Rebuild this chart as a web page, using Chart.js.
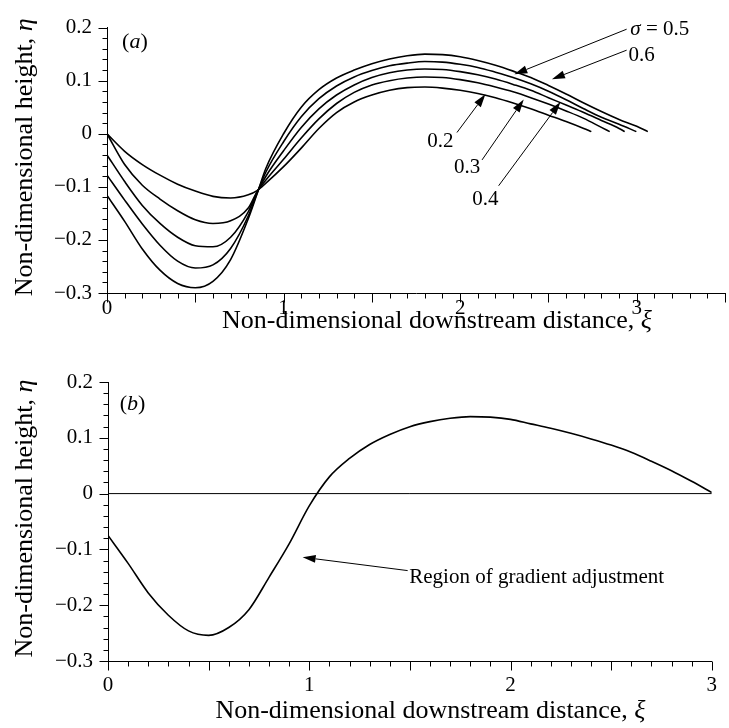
<!DOCTYPE html>
<html>
<head>
<meta charset="utf-8">
<script src="https://cdn.jsdelivr.net/npm/chart.js@4.4.1/dist/chart.umd.min.js"></script>
<style>
html, body { margin: 0; padding: 0; background: #fff; }
#wrap { position: relative; width: 729px; height: 728px; }
canvas { position: absolute; left: 0; }
#chartA { top: 0; }
#chartB { top: 335px; }
</style>
</head>
<body>
<div id="wrap">
    <canvas id="chartA" width="729" height="335"></canvas>
    <canvas id="chartB" width="729" height="393"></canvas>
</div>
<script>
// Panel (a): surface profiles for several sigma
const xGrid = [0, 0.1, 0.2, 0.3, 0.4, 0.5, 0.6, 0.7, 0.8, 0.85, 0.9, 1.0, 1.1, 1.2, 1.3, 1.4, 1.5, 1.6,
    1.7, 1.8, 1.9, 2.0, 2.1, 2.2, 2.3, 2.4, 2.5, 2.6, 2.7, 2.8, 2.9, 3.0];
const sigmaValues = ['0.2', '0.3', '0.4', '0.5', '0.6'];
const etaSigma02 = [0, -0.033, -0.058, -0.078, -0.095, -0.108, -0.118, -0.121, -0.115, -0.107, -0.093, -0.062,
    -0.027, 0.010, 0.040, 0.060, 0.073, 0.082, 0.087, 0.088, 0.086, 0.082, 0.076, 0.068, 0.058, 0.047, 0.035,
    0.023, 0.010];
const etaSigma03 = [0, -0.058, -0.097, -0.123, -0.145, -0.162, -0.169, -0.164, -0.140, -0.109, -0.087, -0.048,
    -0.008, 0.028, 0.057, 0.078, 0.092, 0.100, 0.105, 0.107, 0.106, 0.102, 0.096, 0.088, 0.079, 0.068, 0.056,
    0.043, 0.029, 0.012];
const etaSigma04 = [-0.040, -0.090, -0.135, -0.169, -0.195, -0.211, -0.213, -0.195, -0.147, -0.110, -0.080,
    -0.032, 0.012, 0.047, 0.073, 0.092, 0.106, 0.115, 0.120, 0.122, 0.121, 0.117, 0.111, 0.103, 0.093, 0.082,
    0.068, 0.054, 0.040, 0.025, 0.010];
const etaSigma05 = [-0.078, -0.125, -0.170, -0.210, -0.240, -0.253, -0.247, -0.216, -0.155, -0.112, -0.072,
    -0.015, 0.032, 0.066, 0.090, 0.107, 0.119, 0.128, 0.133, 0.136, 0.135, 0.131, 0.125, 0.116, 0.106, 0.094,
    0.080, 0.064, 0.047, 0.031, 0.018];
const etaSigma06 = [-0.116, -0.165, -0.217, -0.257, -0.282, -0.290, -0.278, -0.237, -0.160, -0.113, -0.065,
    0.000, 0.050, 0.083, 0.105, 0.120, 0.132, 0.141, 0.147, 0.150, 0.149, 0.145, 0.138, 0.129, 0.118, 0.106,
    0.091, 0.075, 0.058, 0.042, 0.027, 0.014];
const endXi = [2.743, 2.847, 2.932, 2.998, 3.063];
const endEta = [0.004, 0.004, 0.004, 0.004, 0.004];

// Panel (b): single profile and the still water level
const xiB = [0, 0.1, 0.2, 0.3, 0.4, 0.5, 0.6, 0.7, 0.8, 0.9, 1.0, 1.1, 1.2, 1.3, 1.4, 1.5, 1.6, 1.7, 1.8,
    1.9, 2.0, 2.1, 2.2, 2.3, 2.4, 2.5, 2.6, 2.7, 2.8, 2.9, 3.0];
const etaB = [-0.075, -0.125, -0.178, -0.218, -0.246, -0.254, -0.240, -0.208, -0.150, -0.090, -0.022, 0.030,
    0.063, 0.088, 0.106, 0.120, 0.129, 0.135, 0.138, 0.137, 0.133, 0.125, 0.117, 0.108, 0.098, 0.087, 0.074,
    0.058, 0.041, 0.022, 0.002];
const zeroXi = [0, 3];
const zeroEta = [0, 0];

// annotations, in data units
const notesA = [
    { parts: [['σ', true], [' = 0.5', false]], x: 2.964, y: 0.197, align: 'left', from: [2.943, 0.197], to: [2.307, 0.112] },
    { parts: [['0.6', false]], x: 2.954, y: 0.148, align: 'left', from: [2.943, 0.1575], to: [2.520, 0.1027] },
    { parts: [['0.2', false]], x: 1.888, y: -0.015, align: 'center', from: [1.982, 0.0024], to: [2.143, 0.0743] },
    { parts: [['0.3', false]], x: 2.039, y: -0.063, align: 'center', from: [2.124, -0.0493], to: [2.360, 0.0644] },
    { parts: [['0.4', false]], x: 2.143, y: -0.124, align: 'center', from: [2.218, -0.098], to: [2.568, 0.060] },
    { parts: [['(', false], ['a', true], [')', false]], x: 0.158, y: 0.173, align: 'center', size: 22 }
];
const notesB = [
    { parts: [['Region of gradient adjustment', false]], x: 1.497, y: -0.1505, align: 'left', from: [1.489, -0.138], to: [0.967, -0.114] },
    { parts: [['(', false], ['b', true], [')', false]], x: 0.122, y: 0.161, align: 'center', size: 22 }
];

const FONT = 'Liberation Serif';

function font(size, italic) {
    return (italic ? 'italic ' : '') + size + 'px "' + FONT + '", "Times New Roman", serif';
}

function drawParts(ctx, parts, x, y, align, size) {
    let total = 0;
    parts.forEach(p => { ctx.font = font(size, p[1]); total += ctx.measureText(p[0]).width; });
    let cx = align === 'left' ? x : (align === 'right' ? x - total : x - total / 2);
    ctx.textAlign = 'left';
    ctx.textBaseline = 'middle';
    parts.forEach(p => {
        ctx.font = font(size, p[1]);
        ctx.fillText(p[0], cx, y);
        cx += ctx.measureText(p[0]).width;
    });
}

function arrow(ctx, x1, y1, x2, y2) {
    const ang = Math.atan2(y2 - y1, x2 - x1);
    const len = 13, half = 4;
    const bx = x2 - len * Math.cos(ang), by = y2 - len * Math.sin(ang);
    ctx.beginPath();
    ctx.moveTo(x1, y1);
    ctx.lineTo(bx, by);
    ctx.stroke();
    ctx.beginPath();
    ctx.moveTo(x2, y2);
    ctx.lineTo(bx + half * Math.sin(ang), by - half * Math.cos(ang));
    ctx.lineTo(bx - half * Math.sin(ang), by + half * Math.cos(ang));
    ctx.closePath();
    ctx.fill();
}

// minor + major ticks, axis titles and the notes
const decor = {
    id: 'decor',
    afterDraw(chart, args, opts) {
        const ctx = chart.ctx;
        const xs = chart.scales.x, ys = chart.scales.y;
        const area = chart.chartArea;
        ctx.save();
        ctx.strokeStyle = '#000';
        ctx.fillStyle = '#000';
        ctx.lineWidth = 1;

        const xBase = Math.round(area.bottom) + 0.5;
        const nx = Math.round((xs.max - xs.min) / 0.1);
        for (let i = 0; i <= nx; i++) {
            const px = Math.round(xs.getPixelForValue(xs.min + i * 0.1)) + 0.5;
            const len = i % 5 === 0 ? 9 : 5;
            ctx.beginPath();
            ctx.moveTo(px, xBase);
            ctx.lineTo(px, xBase + len);
            ctx.stroke();
        }
        const yBase = Math.round(area.left) + 0.5;
        const ny = Math.round((ys.max - ys.min) / 0.02);
        for (let i = 0; i <= ny; i++) {
            const py = Math.round(ys.getPixelForValue(ys.min + i * 0.02)) + 0.5;
            const len = i % 5 === 0 ? 9 : 5;
            ctx.beginPath();
            ctx.moveTo(yBase - len, py);
            ctx.lineTo(yBase, py);
            ctx.stroke();
        }

        // axis titles
        const tx = area.left + 0.534 * (area.right - area.left);
        drawParts(ctx, [['Non-dimensional downstream distance, ', false], ['ξ', true]],
            tx, area.bottom + opts.xTitleGap, 'center', 26);
        ctx.save();
        ctx.translate(25, (area.top + area.bottom) / 2 - 3);
        ctx.rotate(-Math.PI / 2);
        drawParts(ctx, [['Non-dimensional height, ', false], ['η', true]], 0, 0, 'center', 26);
        ctx.restore();

        opts.notes.forEach(n => {
            if (n.from) {
                arrow(ctx, xs.getPixelForValue(n.from[0]), ys.getPixelForValue(n.from[1]),
                    xs.getPixelForValue(n.to[0]), ys.getPixelForValue(n.to[1]));
            }
            drawParts(ctx, n.parts, xs.getPixelForValue(n.x), ys.getPixelForValue(n.y), n.align, n.size || 21);
        });
        ctx.restore();
    }
};

function tickLabelY(v) {
    const r = Math.round(v * 10) / 10;
    if (r === 0) return '0';
    return (r < 0 ? '\u2212' : '') + Math.abs(r).toFixed(1);
}

function tickLabelX(v) {
    return Math.abs(v - Math.round(v)) < 1e-9 ? String(Math.round(v)) : '';
}

function makeOptions(xMax, xHeight, yWidth, padTop, xPad, xTitleGap, notes) {
    return {
        responsive: false,
        animation: false,
        devicePixelRatio: 1,
        events: [],
        layout: { padding: { top: padTop, right: 4, left: 0, bottom: 0 } },
        plugins: {
            legend: { display: false },
            tooltip: { enabled: false },
            decor: { xTitleGap, notes }
        },
        scales: {
            x: {
                type: 'linear',
                min: 0,
                max: xMax,
                afterFit: s => { s.height = xHeight; },
                grid: { display: true, drawOnChartArea: false, drawTicks: false },
                border: { display: true, color: '#000', width: 1 },
                ticks: {
                    stepSize: 0.5,
                    autoSkip: false,
                    maxRotation: 0,
                    padding: xPad,
                    color: '#000',
                    font: { family: FONT, size: 21 },
                    callback: tickLabelX
                }
            },
            y: {
                type: 'linear',
                min: -0.3,
                max: 0.2,
                afterFit: s => { s.width = yWidth; },
                grid: { display: true, drawOnChartArea: false, drawTicks: false },
                border: { display: true, color: '#000', width: 1 },
                ticks: {
                    stepSize: 0.1,
                    padding: 15,
                    color: '#000',
                    font: { family: FONT, size: 21 },
                    callback: tickLabelY
                }
            }
        }
    };
}

const curvesA = [etaSigma02, etaSigma03, etaSigma04, etaSigma05, etaSigma06].map((ys, k) => ({
    label: 'σ = ' + sigmaValues[k],
    data: ys.map((y, i) => ({ x: xGrid[i], y })).concat([{ x: endXi[k], y: endEta[k] }]),
    showLine: true,
    borderColor: '#000',
    borderWidth: 1.6,
    pointRadius: 0,
    cubicInterpolationMode: 'monotone'
}));

new Chart(document.getElementById('chartA').getContext('2d'), {
    type: 'scatter',
    data: { datasets: curvesA },
    options: makeOptions(3.5, 42, 107, 19, 3, 28, notesA),
    plugins: [decor]
});

new Chart(document.getElementById('chartB').getContext('2d'), {
    type: 'scatter',
    data: {
        datasets: [{
            label: 'profile',
            data: xiB.map((x, i) => ({ x, y: etaB[i] })),
            showLine: true,
            borderColor: '#000',
            borderWidth: 1.6,
            pointRadius: 0,
            cubicInterpolationMode: 'monotone'
        }, {
            label: 'still water level',
            data: zeroXi.map((x, i) => ({ x, y: zeroEta[i] })),
            showLine: true,
            borderColor: '#000',
            borderWidth: 1,
            pointRadius: 0
        }]
    },
    options: makeOptions(3, 67, 108, 47, 12, 50, notesB),
    plugins: [decor]
});
</script>
</body>
</html>
